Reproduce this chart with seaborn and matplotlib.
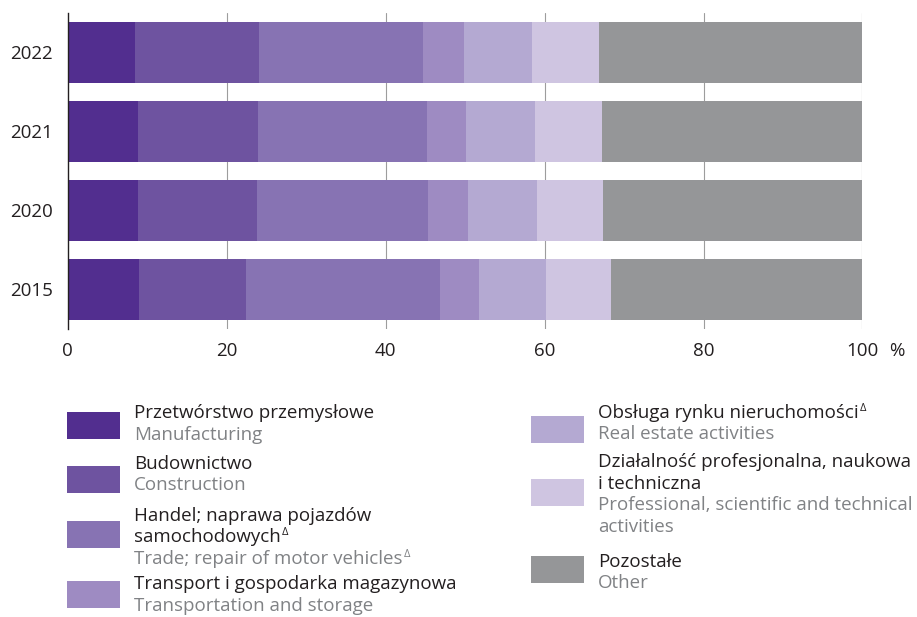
import numpy as np
import pandas as pd
import seaborn as sns
import matplotlib.pyplot as plt
from matplotlib.patches import Rectangle

# Dane (udzialy w %)
years = ['2022', '2021', '2020', '2015']
manufacturing = [8.5, 8.8, 8.8, 9.0]
construction = [15.6, 15.1, 15.0, 13.4]
trade = [20.6, 21.3, 21.5, 24.4]
transport = [5.1, 4.9, 5.1, 5.0]
real_estate = [8.6, 8.7, 8.6, 8.4]
professional = [8.4, 8.4, 8.3, 8.2]
other = [33.2, 32.8, 32.7, 31.6]

series = [manufacturing, construction, trade, transport, real_estate, professional, other]
colors = ['#522e8f', '#6e53a0', '#8773b3', '#9e8bc2', '#b4a9d2', '#cfc5e1', '#959698']

# linie zakonczone '^' dostaja maly trojkat Δ w indeksie gornym
labels_pl = [
    ['Przetwórstwo przemysłowe'],
    ['Budownictwo'],
    ['Handel; naprawa pojazdów', 'samochodowych^'],
    ['Transport i gospodarka magazynowa'],
    ['Obsługa rynku nieruchomości^'],
    ['Działalność profesjonalna, naukowa', 'i techniczna'],
    ['Pozostałe'],
]
labels_en = [
    ['Manufacturing'],
    ['Construction'],
    ['Trade; repair of motor vehicles^'],
    ['Transportation and storage'],
    ['Real estate activities'],
    ['Professional, scientific and technical', 'activities'],
    ['Other'],
]

sns.set_style('white')
plt.rcParams['font.family'] = ['Open Sans', 'DejaVu Sans']

W, H = 917, 617
fig = plt.figure(figsize=(W / 100, H / 100), dpi=100)
ax = fig.add_axes([67.7 / W, 1 - 329 / H, (862.5 - 67.7) / W, (329 - 12.7) / H])

df = pd.DataFrame({'rok': years})
cum = np.cumsum(np.array(series), axis=0)

# warstwy od najdluzszej do najkrotszej
for i in range(len(series) - 1, -1, -1):
    df['v'] = cum[i]
    sns.barplot(data=df, x='v', y='rok', order=years, color=colors[i],
                orient='h', width=0.77, saturation=1, ax=ax, zorder=2,
                linewidth=0)

ax.set_xlim(0, 100)
ax.set_ylim(3.5, -0.5)
ax.set_xticks([0, 20, 40, 60, 80, 100])
ax.set_xlabel('')
ax.set_ylabel('')
for x in [20, 40, 60, 80, 100]:
    ax.axvline(x, color='#9d9d9d', lw=0.8, zorder=1)

for s in ['top', 'right', 'bottom']:
    ax.spines[s].set_visible(False)
ax.spines['left'].set_color('#231f20')
ax.spines['left'].set_linewidth(1.0)
ax.spines['left'].set_zorder(3)
ax.tick_params(axis='both', length=0, labelsize=13.5, labelcolor='#231f20')
ax.tick_params(axis='y', pad=10.5)
ax.tick_params(axis='x', pad=9)
ax.annotate('%', xy=(100, 0), xycoords=('data', 'axes fraction'),
            xytext=(24.5, -9), textcoords='offset points',
            ha='center', va='top', fontsize=13.5, color='#231f20')


def fx(x):
    return x / W


def fy(y):
    return 1 - y / H


renderer = fig.canvas.get_renderer()


def put_line(x, y, s, color):
    delta = s.endswith('^')
    t = fig.text(fx(x), fy(y), s.rstrip('^'), fontsize=13.5, color=color,
                 va='baseline', ha='left')
    if delta:
        bb = t.get_window_extent(renderer)
        fig.text(fx(bb.x1 + 1.5), fy(y - 7), 'Δ', fontsize=8, color=color,
                 va='baseline', ha='left')


# Legenda
patch_x = [67, 67, 67, 67, 531, 531, 531]
patch_top = [412, 466, 521, 581, 416, 479, 556]
text_x = [134, 134, 134, 134, 598, 598, 598]
base0 = [418.3, 469, 520.7, 589.3, 417.7, 467.3, 566.7]
step = 21.5

for i in range(len(series)):
    fig.add_artist(Rectangle((fx(patch_x[i]), fy(patch_top[i] + 26.7)),
                             53 / W, 26.7 / H, transform=fig.transFigure,
                             color=colors[i], lw=0))
    k = 0
    for line in labels_pl[i]:
        put_line(text_x[i], base0[i] + step * k, line, '#231f20')
        k += 1
    for line in labels_en[i]:
        put_line(text_x[i], base0[i] + step * k, line, '#808285')
        k += 1

fig.savefig('out.png', dpi=100)
